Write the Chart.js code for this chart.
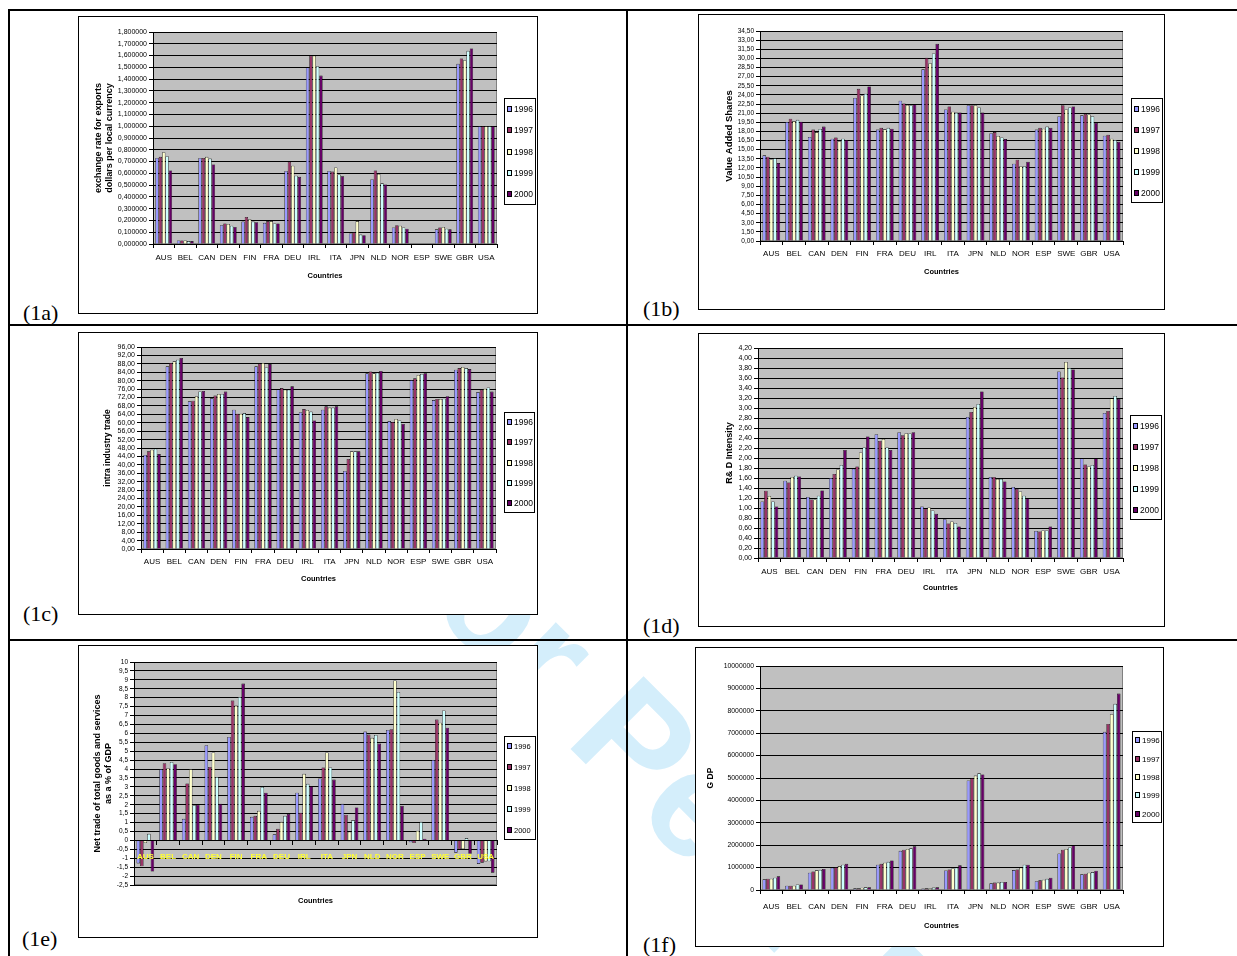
<!DOCTYPE html>
<html>
<head>
<meta charset="utf-8">
<script src="https://cdn.jsdelivr.net/npm/chart.js@4.4.0/dist/chart.umd.min.js"></script>
<style>
  body { margin: 0; background: #fff; }
  #page { position: relative; width: 1237px; height: 956px; overflow: hidden; background: #fff; }
  .line { position: absolute; background: #000; }
  .box { position: absolute; box-sizing: border-box; border: 1px solid #000; background: #fff; }
  .box canvas { position: absolute; left: 0; top: 0; }
  .tag { position: absolute; font-family: "Liberation Serif", "Times New Roman", serif; font-size: 22px; line-height: 22px; }
  #wm { position: absolute; left: 400px; top: 430px; white-space: nowrap; font-family: "Liberation Sans", Arial, sans-serif;
        font-weight: bold; font-size: 150px; line-height: 150px; color: #d4eefb; transform-origin: 0 50%; transform: rotate(45deg); }
</style>
</head>
<body>
<div id="page">
  <div id="wm">For Peer Review</div>
  <div class="line" style="left:8px;top:9px;width:1229px;height:2px"></div>
  <div class="line" style="left:8px;top:324px;width:1229px;height:2px"></div>
  <div class="line" style="left:8px;top:639px;width:1229px;height:2px"></div>
  <div class="line" style="left:8px;top:9px;width:2px;height:947px"></div>
  <div class="line" style="left:626px;top:9px;width:2px;height:947px"></div>

  <div class="tag" style="left:23px;top:302px">(1a)</div>
  <div class="tag" style="left:643px;top:298px">(1b)</div>
  <div class="tag" style="left:23px;top:603px">(1c)</div>
  <div class="tag" style="left:643px;top:615px">(1d)</div>
  <div class="tag" style="left:22px;top:928px">(1e)</div>
  <div class="tag" style="left:643px;top:934px">(1f)</div>
</div>
<script>
// categories and series
const countries = ["AUS", "BEL", "CAN", "DEN", "FIN", "FRA", "DEU", "IRL", "ITA", "JPN", "NLD", "NOR", "ESP", "SWE", "GBR", "USA"];
const years = ["1996", "1997", "1998", "1999", "2000"];

// (1a) exchange rate for exports
const exRate1996 = [0.73, 0.03, 0.73, 0.16, 0.19, 0.18, 0.62, 1.5, 0.62, 0.09, 0.55, 0.14, 0.005, 0.125, 1.53, 1];
const exRate1997 = [0.74, 0.03, 0.73, 0.175, 0.23, 0.195, 0.7, 1.6, 0.615, 0.1, 0.625, 0.16, 0.005, 0.14, 1.575, 1];
const exRate1998 = [0.78, 0.03, 0.74, 0.17, 0.21, 0.195, 0.665, 1.6, 0.65, 0.195, 0.595, 0.155, 0.005, 0.145, 1.56, 1];
const exRate1999 = [0.745, 0.025, 0.725, 0.155, 0.19, 0.175, 0.58, 1.51, 0.59, 0.08, 0.515, 0.14, 0.005, 0.13, 1.64, 1];
const exRate2000 = [0.625, 0.025, 0.675, 0.145, 0.185, 0.175, 0.57, 1.43, 0.575, 0.075, 0.505, 0.13, 0.005, 0.125, 1.66, 1];
const exRateAxis = [0, 1.8, 0.1];

// (1b) value added shares
const vaShare1996 = [14.07, 19.55, 17.1, 16.8, 23.5, 18.3, 23.05, 28.2, 21.6, 22.3, 17.7, 12.7, 18.3, 20.5, 20.65, 17.3];
const vaShare1997 = [13.86, 20.1, 18.3, 17.0, 25.0, 18.6, 22.6, 30.1, 22.1, 22.3, 17.9, 13.35, 18.6, 22.3, 20.9, 17.45];
const vaShare1998 = [13.4, 19.7, 17.9, 16.4, 23.9, 18.35, 22.35, 29.2, 21.25, 22.3, 17.25, 12.3, 18.45, 21.6, 20.8, 16.8];
const vaShare1999 = [13.6, 19.9, 18.4, 16.8, 24.2, 18.6, 22.3, 30.8, 21.1, 21.95, 17.0, 12.3, 18.8, 21.95, 20.5, 16.6];
const vaShare2000 = [12.8, 19.6, 18.8, 16.6, 25.4, 18.45, 22.45, 32.4, 21.1, 21.1, 16.75, 13.0, 18.6, 22.1, 19.4, 16.3];
const vaShareAxis = [0, 34.5, 1.5];

// (1c) intra industry trade
const iit1996 = [44.7, 86.8, 70.2, 71.6, 66.2, 86.8, 75.9, 65.0, 66.2, 37.1, 83.5, 60.8, 80.3, 70.8, 85.2, 74.6];
const iit1997 = [46.4, 88.4, 70.5, 72.9, 64.3, 88.1, 76.5, 66.5, 67.8, 42.8, 84.4, 60.4, 81.1, 71.3, 86.0, 75.7];
const iit1998 = [47.2, 89.2, 72.6, 73.7, 64.3, 88.4, 75.7, 66.1, 67.2, 46.4, 83.5, 61.8, 82.7, 71.3, 86.5, 76.2];
const iit1999 = [47.7, 90.0, 74.9, 73.7, 64.6, 86.3, 75.7, 65.3, 67.2, 46.4, 83.8, 61.1, 83.2, 71.4, 86.0, 76.8];
const iit2000 = [45.1, 90.8, 75.1, 74.8, 62.7, 87.9, 77.3, 61.1, 67.8, 46.4, 84.6, 59.4, 83.5, 72.6, 85.5, 74.8];
const iitAxis = [0, 96, 4];

// (1d) R&D intensity
const rd1996 = [1.13, 1.545, 1.22, 1.6, 1.785, 2.475, 2.515, 1.03, 0.776, 2.82, 1.62, 1.42, 0.54, 3.73, 1.99, 2.9];
const rd1997 = [1.345, 1.51, 1.17, 1.68, 1.83, 2.34, 2.455, 0.99, 0.69, 2.92, 1.62, 1.38, 0.53, 3.61, 1.87, 2.94];
const rd1998 = [1.24, 1.62, 1.17, 1.77, 2.11, 2.38, 2.495, 1.01, 0.73, 3.02, 1.58, 1.33, 0.55, 3.92, 1.83, 3.19];
const rd1999 = [1.13, 1.645, 1.245, 1.86, 2.21, 2.21, 2.49, 0.95, 0.70, 3.08, 1.58, 1.245, 0.55, 3.8, 1.86, 3.24];
const rd2000 = [1.03, 1.63, 1.35, 2.16, 2.43, 2.16, 2.515, 0.883, 0.63, 3.33, 1.53, 1.19, 0.63, 3.77, 1.99, 3.18];
const rdAxis = [0, 4.2, 0.2];

// (1e) net trade as % of GDP
const net1996 = [-1.29, 4.0, 1.21, 5.34, 5.8, 1.32, 0.34, 2.67, 3.47, 2.05, 6.1, 6.19, -0.11, 4.51, -0.69, -1.32];
const net1997 = [-1.45, 4.33, 3.19, 4.12, 7.84, 1.38, 0.65, 1.55, 4.09, 1.44, 5.93, 6.23, -0.15, 6.77, -0.5, -1.25];
const net1998 = [-0.15, 4.05, 4.0, 4.93, 7.56, 1.66, 1.04, 3.73, 4.93, 0.49, 5.75, 8.97, 0.54, 6.6, -0.49, -1.18];
const net1999 = [0.37, 4.4, 1.97, 3.56, 8.04, 3.0, 1.38, 3.17, 4.09, 1.14, 5.91, 8.32, 1.04, 7.28, 0.13, -1.17];
const net2000 = [-1.75, 4.27, 2.0, 2.05, 8.79, 2.67, 1.49, 3.04, 3.41, 1.85, 5.43, 1.94, 0.09, 6.32, -0.75, -1.81];
const netAxis = [-2.5, 10, 0.5];

// (1f) GDP
const gdp1996 = [475000, 190000, 770000, 1000000, 75000, 1130000, 1750000, 70000, 875000, 4890000, 300000, 890000, 390000, 1630000, 700000, 7060000];
const gdp1997 = [505000, 190000, 830000, 1020000, 75000, 1170000, 1800000, 75000, 920000, 4990000, 330000, 920000, 430000, 1800000, 730000, 7410000];
const gdp1998 = [505000, 190000, 880000, 1070000, 100000, 1220000, 1830000, 80000, 965000, 5110000, 330000, 1000000, 460000, 1830000, 770000, 7850000];
const gdp1999 = [550000, 250000, 900000, 1130000, 120000, 1260000, 1860000, 110000, 1000000, 5210000, 360000, 1130000, 500000, 1900000, 800000, 8310000];
const gdp2000 = [610000, 250000, 940000, 1170000, 120000, 1320000, 1950000, 120000, 1100000, 5160000, 360000, 1130000, 550000, 1990000, 860000, 8770000];
const gdpAxis = [0, 10000000, 1000000];

const yearColors = ["#9999ff", "#993366", "#ffffcc", "#ccffff", "#660066"];
const FONT = '"Liberation Sans", Arial, sans-serif';
Chart.defaults.font.family = FONT;
Chart.defaults.color = "#000";

const comma = (v, d) => v.toFixed(d).replace(".", ",");

const panels = [
  { box: [78, 16, 538, 314], plot: [153, 32, 497, 244], yTitleX: 99, xTitleY: 276, leg: [504, 98, 536, 205], legSize: 8.5,
    series: [exRate1996, exRate1997, exRate1998, exRate1999, exRate2000], axis: exRateAxis,
    title: ["exchange rate for exports", "dollars per local currency"], titleSize: 9, tickSize: 7, xSize: 8, xPad: 5,
    fmt: v => comma(v, 6) },
  { box: [698, 14, 1165, 310], plot: [760, 31, 1123, 241], yTitleX: 729, xTitleY: 272, leg: [1131, 98, 1163, 203], legSize: 8.5,
    series: [vaShare1996, vaShare1997, vaShare1998, vaShare1999, vaShare2000], axis: vaShareAxis,
    title: "Value Added Shares", titleSize: 9.5, tickSize: 6.5, xSize: 8, xPad: 4,
    fmt: v => comma(v, 2) },
  { box: [78, 332, 538, 615], plot: [141, 347, 496, 549], yTitleX: 108, xTitleY: 579, leg: [504, 412, 535, 513], legSize: 8.5,
    series: [iit1996, iit1997, iit1998, iit1999, iit2000], axis: iitAxis,
    title: "intra industry trade", titleSize: 8.5, tickSize: 7, xSize: 8, xPad: 4,
    fmt: v => comma(v, 2) },
  { box: [698, 333, 1165, 627], plot: [758, 348, 1123, 558], yTitleX: 730, xTitleY: 588, leg: [1130, 415, 1162, 520], legSize: 8.5,
    series: [rd1996, rd1997, rd1998, rd1999, rd2000], axis: rdAxis,
    title: "R& D Intensity", titleSize: 9, tickSize: 7, xSize: 8, xPad: 4.5,
    fmt: v => comma(v, 2) },
  { box: [78, 645, 538, 938], plot: [134, 662, 497, 885], yTitleX: 98, xTitleY: 901, leg: [504, 736, 536, 840], legSize: 7.5,
    series: [net1996, net1997, net1998, net1999, net2000], axis: netAxis,
    title: ["Net trade of total goods and services", "as a % of GDP"], titleSize: 9, tickSize: 6.5, xSize: 8, xPad: 8,
    fmt: v => String(Math.round(v * 10) / 10).replace(".", ","), zeroAxis: true },
  { box: [695, 647, 1164, 947], plot: [760, 666, 1123, 890], yTitleX: 711, xTitleY: 926, leg: [1132, 731, 1162, 823], legSize: 8,
    series: [gdp1996, gdp1997, gdp1998, gdp1999, gdp2000], axis: gdpAxis,
    title: "G DP", titleSize: 8.5, tickSize: 6.8, xSize: 8, xPad: 8,
    fmt: v => String(Math.round(v)) }
];

// grey plot area + Excel style legend with a frame
function framePlugin(p, ox, oy) {
  return {
    id: "frame",
    beforeDraw(chart) {
      const a = chart.chartArea, c = chart.ctx;
      c.save();
      c.fillStyle = "#c0c0c0";
      c.fillRect(a.left, a.top, a.right - a.left, a.bottom - a.top);
      c.strokeStyle = "#808080";
      c.lineWidth = 1;
      c.strokeRect(a.left + 0.5, a.top + 0.5, a.right - a.left - 1, a.bottom - a.top - 1);
      c.restore();
    },
    afterDraw(chart) {
      const c = chart.ctx;
      const x0 = p.leg[0] - ox, y0 = p.leg[1] - oy, x1 = p.leg[2] - ox, y1 = p.leg[3] - oy;
      c.save();
      c.fillStyle = "#fff";
      c.fillRect(x0, y0, x1 - x0, y1 - y0);
      c.strokeStyle = "#000";
      c.lineWidth = 1;
      c.strokeRect(x0 + 0.5, y0 + 0.5, x1 - x0 - 1, y1 - y0 - 1);
      const ds = chart.data.datasets;
      const step = (y1 - y0) / ds.length;
      c.font = p.legSize + "px " + FONT;
      c.textBaseline = "middle";
      ds.forEach((d, i) => {
        const cy = Math.round(y0 + step * (i + 0.5));
        c.fillStyle = d.backgroundColor;
        c.fillRect(x0 + 3, cy - 3, 5, 6);
        c.strokeStyle = "#000";
        c.strokeRect(x0 + 3.5, cy - 2.5, 4, 5);
        c.fillStyle = "#000";
        c.fillText(d.label, x0 + 10, cy + 0.5);
      });
      c.restore();
    }
  };
}

const page = document.getElementById("page");

panels.forEach(p => {
  const [bx0, by0, bx1, by1] = p.box;
  const div = document.createElement("div");
  div.className = "box";
  div.style.left = bx0 + "px";
  div.style.top = by0 + "px";
  div.style.width = (bx1 - bx0) + "px";
  div.style.height = (by1 - by0) + "px";
  const cv = document.createElement("canvas");
  const cw = bx1 - bx0 - 2, ch = by1 - by0 - 2;
  cv.width = cw; cv.height = ch;
  cv.style.width = cw + "px"; cv.style.height = ch + "px";
  div.appendChild(cv);
  page.appendChild(div);

  const ox = bx0 + 1, oy = by0 + 1;
  const lhT = p.titleSize * 1.2, lhX = 7.5 * 1.2;
  const yW = p.plot[0] - (p.yTitleX - lhT / 2);
  const xH = (p.xTitleY + lhX / 2) - p.plot[3];
  const padding = {
    left: (p.yTitleX - lhT / 2) - ox,
    top: p.plot[1] - oy,
    right: (ox + cw) - p.plot[2],
    bottom: (oy + ch) - (p.xTitleY + lhX / 2)
  };

  const datasets = p.series.map((s, i) => ({
    label: years[i],
    data: s,
    xAxisID: "x",
    backgroundColor: yearColors[i],
    borderColor: "#000",
    borderWidth: 0.6,
    categoryPercentage: 0.78,
    barPercentage: 1
  }));

  const xTitle = { display: true, text: "Countries", color: "#000", padding: 0, font: { size: 7.5, weight: "bold", lineHeight: 1.2 } };
  const xAxis = {
    type: "category",
    offset: true,
    grid: { offset: true, drawOnChartArea: false, drawTicks: true, tickLength: 4, color: "#000" },
    border: { color: "#000" },
    ticks: { autoSkip: false, maxRotation: 0, minRotation: 0, padding: p.xPad, color: "#000", font: { size: p.xSize, lineHeight: 1.2 } },
    title: xTitle,
    afterFit: s => { s.height = xH; }
  };
  const scales = { x: xAxis };
  if (p.zeroAxis) {
    // category axis crosses at zero, yellow labels over the bars; a second hidden axis carries the title
    xAxis.position = { y: 0 };
    xAxis.ticks.z = 1;
    xAxis.border.z = 1;
    xAxis.title = { display: false };
    xAxis.ticks.color = "#ffff33";
    xAxis.ticks.font.weight = "bold";
    xAxis.afterFit = s => { s.height = 0; };
  }
  scales.y = {
    min: p.axis[0], max: p.axis[1],
    grid: { color: "#000", tickLength: 4, drawTicks: true },
    border: { color: "#000" },
    ticks: { stepSize: p.axis[2], autoSkip: false, maxTicksLimit: 100, padding: 2, color: "#000",
             font: { size: p.tickSize, lineHeight: 1 }, callback: v => p.fmt(v) },
    title: { display: true, text: p.title, color: "#000", padding: 0, font: { size: p.titleSize, weight: "bold", lineHeight: 1.2 } },
    afterFit: s => { s.width = yW; }
  };
  if (p.zeroAxis) {
    scales.x2 = {
      type: "category", position: "bottom",
      grid: { display: false }, border: { display: false }, ticks: { display: false },
      title: xTitle,
      afterFit: s => { s.height = xH; }
    };
  }

  new Chart(cv, {
    type: "bar",
    data: { labels: countries, datasets },
    options: {
      responsive: false,
      animation: false,
      devicePixelRatio: 1,
      layout: { padding },
      plugins: { legend: { display: false }, tooltip: { enabled: false } },
      scales
    },
    plugins: [framePlugin(p, ox, oy)]
  });
});
</script>
</body>
</html>
